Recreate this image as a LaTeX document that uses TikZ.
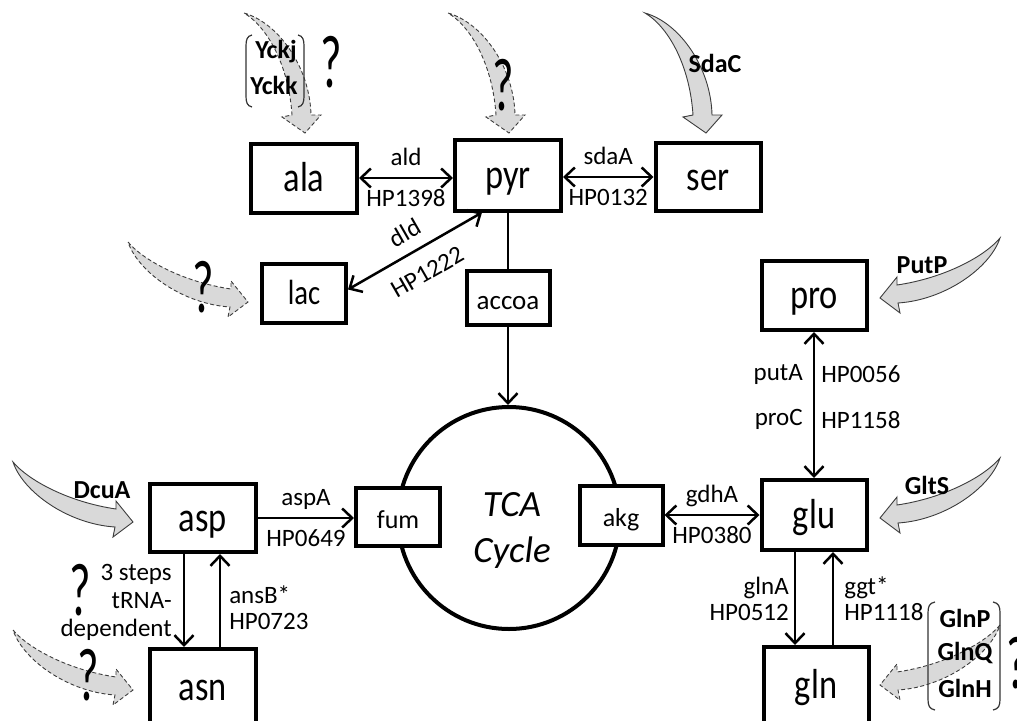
\documentclass[tikz,border=0pt]{standalone}
\usepackage{fontspec}
\setmainfont{Carlito}
\usepackage{graphicx}
\usetikzlibrary{arrows.meta}
\definecolor{fluxfill}{HTML}{D9D9D9}
\definecolor{fluxline}{HTML}{3C3C3C}
% condensed lettering for the metabolite names
\newcommand\narrowtxt[1]{\scalebox{0.82}[1]{#1}}
\newcommand\qglyph{\scalebox{0.62}[1]{?}}
\tikzset{
  metab/.style={draw, line width=4pt, fill=white, inner sep=0pt,
    text height=30pt, text depth=4pt, font=\fontsize{42}{44}\selectfont},
  smallmetab/.style={metab, text height=26pt, text depth=4pt,
    font=\fontsize{26}{30}\selectfont},
  conn/.style={line width=2.5pt, >={Straight Barb[length=10pt,width=19pt]}},
  lbl/.style={font=\fontsize{25}{26}\selectfont, inner sep=0pt},
  lblup/.style={lbl, midway, anchor=base, yshift=13pt},
  lbldn/.style={lbl, midway, anchor=base, yshift=-28pt},
  tag/.style={font=\bfseries\fontsize{26}{28}\selectfont, inner sep=0pt},
  qmark/.style={font=\fontsize{75}{75}\selectfont, inner sep=0pt, anchor=base},
  bracket/.style={line width=1.2pt, draw=black!80},
  fluxpath/.style={fill=fluxfill, draw=fluxline, line width=0.9pt},
  unsure/.style={dash pattern=on 4pt off 2.5pt},
  % curved transport arrow pointing down
  downflux/.pic={\path[fluxpath] (0,0) .. controls (35,10) and (66,55) .. (67,102)
      -- (77,102) -- (61,120) -- (38,104) -- (48,102)
      .. controls (45,55) and (25,15) .. (0,0) -- cycle;},
  % curved transport arrow pointing left
  leftflux/.pic={\path[fluxpath] (0,0) .. controls (-15,18) and (-55,40) .. (-103,47)
      -- (-103,39) -- (-120,60) -- (-100,75) -- (-102,65)
      .. controls (-55,62) and (-10,30) .. (0,0) -- cycle;},
  % curved transport arrow pointing right
  rightflux/.pic={\path[fluxpath] (0,0) .. controls (15,18) and (55,40) .. (103,47)
      -- (103,39) -- (120,60) -- (100,75) -- (102,65)
      .. controls (55,62) and (10,30) .. (0,0) -- cycle;}
}
\begin{document}
\begin{tikzpicture}[x=1pt, y=-1pt]
\useasboundingbox (0,0) rectangle (1017,720);

% transport arrows
\pic[unsure] at (244,13) {downflux};
\pic[unsure] at (448,13) {downflux};
\pic at (645,13) {downflux};
\pic at (1000,238) {leftflux};
\pic at (1000,458) {leftflux};
\pic[unsure] at (1000,625) {leftflux};
\pic[unsure] at (128,242) {rightflux};
\pic at (13,462) {rightflux};
\pic[unsure] at (13,630) {rightflux};

% transporter groups
\draw[bracket] (252,35) .. controls (247,36) and (246,40) .. (246,46) -- (246,96)
  .. controls (246,102) and (247,106) .. (252,107);
\draw[bracket] (298,35) .. controls (303,36) and (304,40) .. (304,46) -- (304,96)
  .. controls (304,102) and (303,106) .. (298,107);
\draw[bracket] (935,602) .. controls (929,603) and (928,607) .. (928,613) -- (928,699)
  .. controls (928,705) and (929,709) .. (935,710);
\draw[bracket] (993,602) .. controls (999,603) and (1000,607) .. (1000,613) -- (1000,699)
  .. controls (1000,705) and (999,709) .. (993,710);

% TCA cycle
\node[draw, circle, line width=4pt, minimum size=222pt, inner sep=0pt] (tca) at (509,518) {};
\node[font=\itshape\fontsize{37}{46}\selectfont, align=center, inner sep=0pt] (tcalabel) at (512,530) {TCA\\Cycle};

% metabolites
\node[metab, minimum width=106pt, minimum height=69pt] (ala) at (304,178) {\narrowtxt{ala}};
\node[metab, minimum width=106pt, minimum height=71pt] (pyr) at (508,175) {\narrowtxt{pyr}};
\node[metab, minimum width=105pt, minimum height=68pt] (ser) at (708,177) {\narrowtxt{ser}};
\node[smallmetab, minimum width=84pt, minimum height=59pt, font=\fontsize{35}{38}\selectfont] (lac) at (304,293.5) {\narrowtxt{lac}};
\node[smallmetab, minimum width=83pt, minimum height=54pt, font=\fontsize{27}{30}\selectfont] (accoa) at (508,298) {accoa};
\node[metab, minimum width=105pt, minimum height=69pt] (pro) at (814,295.5) {\narrowtxt{pro}};
\node[smallmetab, minimum width=84pt, minimum height=58pt] (fum) at (398,517) {fum};
\node[smallmetab, minimum width=83pt, minimum height=59pt] (akg) at (621,515.5) {akg};
\node[metab, minimum width=106pt, minimum height=68pt] (asp) at (203,518) {\narrowtxt{asp}};
\node[metab, minimum width=106pt, minimum height=76pt] (asn) at (203,687) {\narrowtxt{asn}};
\node[metab, minimum width=105pt, minimum height=70pt] (glu) at (814,515) {\narrowtxt{glu}};
\node[metab, minimum width=105pt, minimum height=76pt] (gln) at (816,685) {\narrowtxt{gln}};

% reactions
\draw[conn, <->] (ala.east) -- (ala.east -| pyr.west)
  node[lblup] {ald} node[lbldn] {HP1398};
\draw[conn, <->] (pyr.east |- ser.west) -- (ser.west)
  node[lblup] {sdaA} node[lbldn] {HP0132};
\draw[conn, <->] ([yshift=4pt]lac.east) -- ([xshift=-26pt]pyr.south)
  node[lbl, midway, sloped, above=11pt] {dld}
  node[lbl, midway, sloped, below=15pt] {HP1222};
\draw[conn] (pyr.south) -- (pyr.south |- accoa.north);
\draw[conn, ->] (accoa.south) -- (accoa.south |- tca.north);
\draw[conn, ->] (asp.east) -- (asp.east -| fum.west)
  node[lblup] {aspA} node[lbldn] {HP0649};
\draw[conn, <->] (akg.east |- glu.west) -- (glu.west)
  node[lblup] {gdhA} node[lbldn] {HP0380};
\draw[conn, <->] (pro.south) -- (glu.north)
  node[lbl, pos=0.29, anchor=east, xshift=-10pt] {putA}
  node[lbl, pos=0.29, anchor=west, xshift=6pt] {HP0056}
  node[lbl, pos=0.6, anchor=east, xshift=-10pt] {proC}
  node[lbl, pos=0.6, anchor=west, xshift=6pt] {HP1158};
\draw[conn, ->] ([xshift=-19pt]asp.south) -- ([xshift=-19pt]asp.south |- asn.north)
  node[lbl, pos=0.52, anchor=east, xshift=-11pt, align=right,
       font=\fontsize{25}{28}\selectfont] {3 steps\\tRNA-\\dependent};
\draw[conn, ->] ([xshift=17pt]asp.south |- asn.north) -- ([xshift=17pt]asp.south)
  node[lbl, pos=0.42, anchor=west, xshift=8pt, align=left] {ansB*\\HP0723};
\draw[conn, ->] ([xshift=-19pt]glu.south) -- ([xshift=-19pt]glu.south |- gln.north)
  node[lbl, pos=0.5, anchor=east, xshift=-5pt, align=right] {glnA\\HP0512};
\draw[conn, ->] ([xshift=19pt]glu.south |- gln.north) -- ([xshift=19pt]glu.south)
  node[lbl, pos=0.5, anchor=west, xshift=10pt, align=left] {ggt*\\HP1118};

% transporter names
\node[tag] (yckj) at (276,52) {Yckj};
\node[tag] (yckk) at (274,85) {Yckk};
\node[tag] (sdac) at (715,63) {SdaC};
\node[tag] (putp) at (922,265) {PutP};
\node[tag] (gltS) at (927,485) {GltS};
\node[tag] (dcua) at (102,490) {DcuA};
\node[tag] (glnp) at (965,618) {GlnP};
\node[tag] (glnq) at (965,653) {GlnQ};
\node[tag] (glnh) at (965,688) {GlnH};

% unknown transport steps
\node[qmark] (q1) at (331,87) {\qglyph};
\node[qmark] (q2) at (503,110) {\qglyph};
\node[qmark] (q3) at (203,312) {\qglyph};
\node[qmark] (q4) at (80,615) {\qglyph};
\node[qmark] (q5) at (88,700) {\qglyph};
\node[qmark] (q6) at (1017,688) {\qglyph};
\end{tikzpicture}
\end{document}
